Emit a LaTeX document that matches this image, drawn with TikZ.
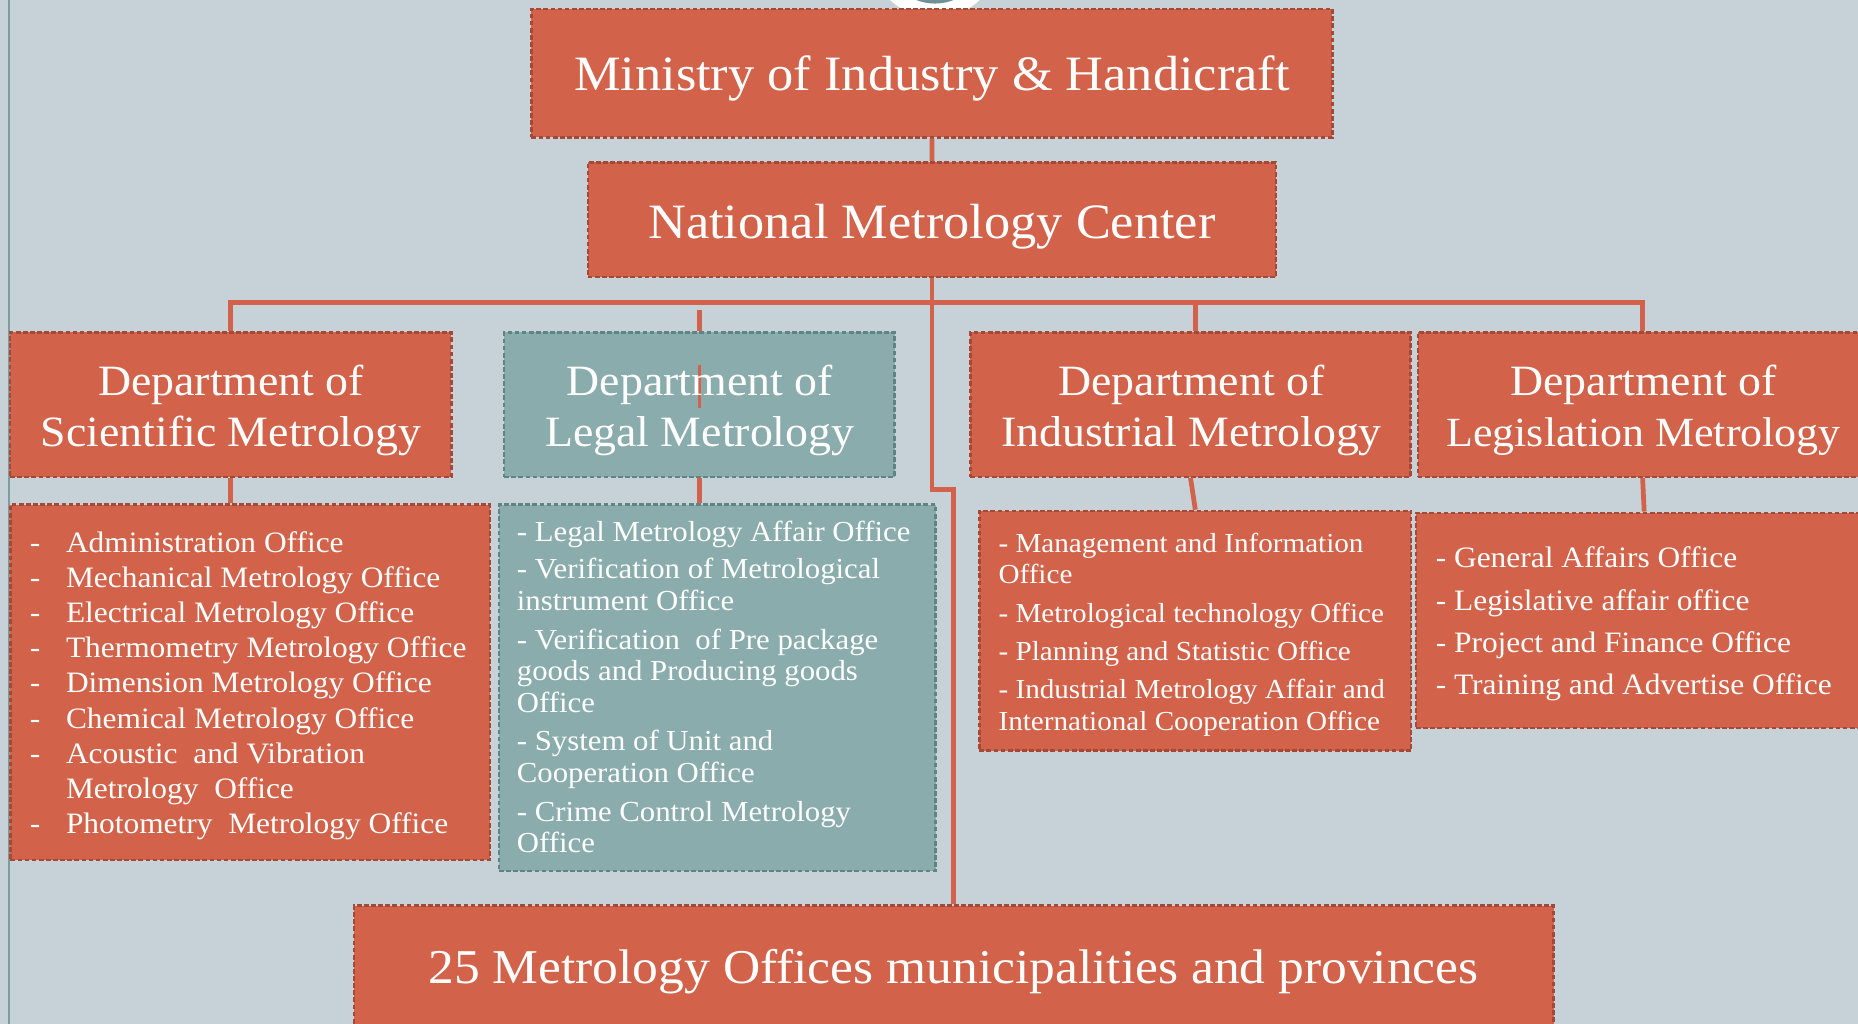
\documentclass[tikz,border=0pt]{standalone}
\usepackage{fontspec}
\setmainfont{Liberation Serif}[FakeStretch=1.06]
\usetikzlibrary{fit}
\definecolor{bg}{RGB}{198,209,216}
\definecolor{orng}{RGB}{210,99,74}
\definecolor{oedge}{RGB}{164,72,56}
\definecolor{teal1}{RGB}{138,172,172}
\definecolor{tedge}{RGB}{96,132,134}
\definecolor{edgeline}{RGB}{124,156,158}
\definecolor{ringteal}{RGB}{112,146,150}
\begin{document}
\begin{tikzpicture}[x=1pt,y=-1pt,
  obox/.style={draw=oedge, fill=orng, line width=2pt, dash pattern=on 4pt off 2pt, inner sep=0pt},
  tbox/.style={draw=tedge, fill=teal1, line width=2pt, dash pattern=on 4pt off 2pt, inner sep=0pt},
  conn/.style={draw=orng, line width=4pt},
  ttl/.style={text=white, inner sep=0pt, font=\fontsize{41.7}{50}\selectfont},
  dtxt/.style={text=white, inner sep=0pt, anchor=base, font=\fontsize{36.5}{44}\selectfont},
  itm/.style={text=white, inner sep=0pt, anchor=base west, font=\fontsize{25}{30}\selectfont},
  itmL/.style={itm, font=\fontsize{24.5}{30}\selectfont},
  itmI/.style={itm, font=\fontsize{23.2}{28}\selectfont},
  itmG/.style={itm, font=\fontsize{25}{30}\selectfont}]
\useasboundingbox (0,0) rectangle (1568,864);
\clip (0,0) rectangle (1568,864);
\fill[bg] (0,0) rectangle (1568,864);
\draw[edgeline, line width=2pt] (7.5,0) -- (7.5,864);
% ring at top
\fill[white] (789,-40) circle (55);
\fill[ringteal] (789,-40) circle (43);
% boxes
\node[obox, fit={(448.5,7.6) (1124.4,115.9)}] (minis) {};
\node[obox, fit={(496,137) (1077,234)}] (nmc) {};
\node[obox, fit={(8.5,280.5) (381,402.3)}] (dsci) {};
\node[tbox, fit={(425.5,280.5) (755,402.3)}] (dleg) {};
\node[obox, fit={(819,280.5) (1190.4,402.3)}] (dind) {};
\node[obox, fit={(1196.4,280.5) (1576,402.3)}] (dlgs) {};
\node[obox, fit={(8.8,425.9) (413.4,725.8)}] (lsci) {};
\node[tbox, fit={(421.1,425.9) (789.6,735.1)}] (lleg) {};
\node[obox, fit={(826.5,431.2) (1191,633.5)}] (lind) {};
\node[obox, fit={(1195.1,432.7) (1580,614.1)}] (llgs) {};
\node[obox, fit={(298.7,764.3) (1311.1,900)}] (bot) {};
% connectors
\coordinate (bar) at (786.5,255);
\coordinate (legtop) at (590.25,261.6);
\coordinate (artA) at (590.25,308);
\coordinate (artB) at (590.25,344);
\draw[conn] (minis.south) -- (nmc.north);
\draw[conn] (nmc.south) -- ++(0,178) -| (bot.north);
\draw[conn] (dsci.north) |- (bar) -| (dlgs.north);
\draw[conn] (bar -| lind.north) -- (lind.north |- dind.north);
\draw[conn] (legtop) -- (dleg.north);
\draw[orng, line width=2pt] (artA) -- (artB);
\draw[conn] (dsci.south) -- (dsci.south |- lsci.north);
\draw[conn] (dleg.south) -- (dleg.south |- lleg.north);
\draw[conn] (dind.south) -- (lind.north);
\draw[conn] (dlgs.south) -- (llgs.north);
% titles
\node[ttl, anchor=base] (minisT) at (786.5,76.6) {Ministry of Industry \& Handicraft};
\node[ttl, anchor=base] (nmcT) at (786.5,201.1) {National Metrology Center};
\node[dtxt] (dsciA) at (195,333.5) {Department of};
\node[dtxt] (dsciB) at (195,376.5) {Scientific Metrology};
\node[dtxt] (dlegA) at (590.5,333.5) {Department of};
\node[dtxt] (dlegB) at (590.5,376.5) {Legal Metrology};
\node[dtxt] (dindA) at (1005.5,333.5) {Department of};
\node[dtxt] (dindB) at (1005.5,376.5) {Industrial Metrology};
\node[dtxt] (dlgsA) at (1387,333.5) {Department of};
\node[dtxt, font=\fontsize{35}{44}\selectfont] (dlgsB) at (1387,376.5) {Legislation Metrology};
\node[ttl, anchor=base, font=\fontsize{41}{50}\selectfont] (botT) at (804.7,829.8) {25 Metrology Offices municipalities and provinces};
% scientific list
\node[itm] (sd1) at (25,466.4) {-};
\node[itm] (sd2) at (25,496.0) {-};
\node[itm] (sd3) at (25,525.6) {-};
\node[itm] (sd4) at (25,555.2) {-};
\node[itm] (sd5) at (25,584.8) {-};
\node[itm] (sd6) at (25,614.4) {-};
\node[itm] (sd7) at (25,644.0) {-};
\node[itm] (sd8) at (25,703.2) {-};
\node[itm] (s1) at (55.5,466.4) {Administration Office};
\node[itm] (s2) at (55.5,496.0) {Mechanical Metrology Office};
\node[itm] (s3) at (55.5,525.6) {Electrical Metrology Office};
\node[itm] (s4) at (55.5,555.2) {Thermometry Metrology Office};
\node[itm] (s5) at (55.5,584.8) {Dimension Metrology Office};
\node[itm] (s6) at (55.5,614.4) {Chemical Metrology Office};
\node[itm] (s7) at (55.5,644.0) {Acoustic\ \ and Vibration};
\node[itm] (s8) at (55.5,673.6) {Metrology\ \ Office};
\node[itm] (s9) at (55.5,703.2) {Photometry\ \ Metrology Office};
% legal list
\node[itmL] (l1) at (436,457.1) {- Legal Metrology Affair Office};
\node[itmL] (l2) at (436,488.1) {- Verification of Metrological};
\node[itmL] (l3) at (436,515.4) {instrument Office};
\node[itmL] (l4) at (436,547.7) {- Verification\ \ of Pre package};
\node[itmL] (l5) at (436,573.9) {goods and Producing goods};
\node[itmL] (l6) at (436,601.1) {Office};
\node[itmL] (l7) at (436,633.5) {- System of Unit and};
\node[itmL] (l8) at (436,660.5) {Cooperation Office};
\node[itmL] (l9) at (436,693.4) {- Crime Control Metrology};
\node[itmL] (l10) at (436,719.6) {Office};
% industrial list
\node[itmI] (i1) at (842.5,466.4) {- Management and Information};
\node[itmI] (i2) at (842.5,492.3) {Office};
\node[itmI] (i3) at (842.5,525.5) {- Metrological technology Office};
\node[itmI] (i4) at (842.5,557.6) {- Planning and Statistic Office};
\node[itmI] (i5) at (842.5,589.3) {- Industrial Metrology Affair and};
\node[itmI] (i6) at (842.5,616.1) {International Cooperation Office};
% legislation list
\node[itmG] (g1) at (1211.5,479.0) {- General Affairs Office};
\node[itmG] (g2) at (1211.5,514.8) {- Legislative affair office};
\node[itmG] (g3) at (1211.5,550.5) {- Project and Finance Office};
\node[itmG] (g4) at (1211.5,585.9) {- Training and Advertise Office};
\end{tikzpicture}
\end{document}
